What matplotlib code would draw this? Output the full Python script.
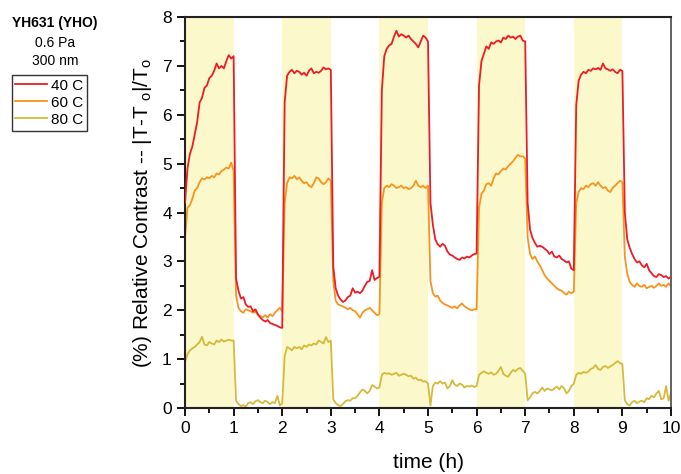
import numpy as np
import matplotlib
matplotlib.use("Agg")
import matplotlib.pyplot as plt
from matplotlib.lines import Line2D
from matplotlib.ticker import MultipleLocator

# sampling times (h), one point every 0.05 h
time_h = np.round(np.arange(0, 10.001, 0.05), 2)

# 40 C
red_40 = [
    4.2, 4.9, 5.2, 5.35, 5.6, 5.85, 6.25, 6.35, 6.55, 6.6, 6.75, 6.8, 6.9, 7.05, 6.95, 7.0, 6.95, 7.1, 7.22, 7.15,
    7.2, 2.65, 2.4, 2.24, 2.27, 2.12, 2.07, 2.08, 1.98, 2.02, 1.92, 1.85, 1.8, 1.77, 1.8, 1.74, 1.72, 1.7, 1.68, 1.65,
    1.64, 6.25, 6.8, 6.88, 6.92, 6.85, 6.9, 6.88, 6.82, 6.86, 6.8, 6.9, 6.95, 6.85, 6.88, 6.86, 6.9, 6.97, 6.93, 6.95,
    6.92, 2.9, 2.45, 2.3, 2.22, 2.17, 2.2, 2.27, 2.3, 2.45, 2.36, 2.38, 2.35, 2.4, 2.5, 2.58, 2.6, 2.82, 2.62, 2.66,
    2.68, 6.5, 7.2, 7.35, 7.42, 7.45, 7.6, 7.72, 7.6, 7.65, 7.62, 7.58, 7.62, 7.55, 7.5, 7.45, 7.38, 7.5, 7.62, 7.58,
    7.5, 4.2, 3.75, 3.45, 3.35, 3.3, 3.36, 3.32, 3.2, 3.14, 3.12, 3.08, 3.05, 3.03, 3.08, 3.06, 3.1, 3.08, 3.12, 3.15,
    3.16, 6.6, 7.1, 7.25, 7.4, 7.35, 7.48, 7.45, 7.5, 7.52, 7.48, 7.58, 7.55, 7.62, 7.58, 7.6, 7.55, 7.6, 7.62, 7.52,
    7.5, 4.2, 3.65, 3.48, 3.38, 3.3, 3.32, 3.3, 3.26, 3.22, 3.15, 3.2, 3.1, 3.08, 3.12, 3.05, 3.02, 2.98, 3.0, 2.85,
    2.82, 6.2, 6.7, 6.82, 6.88, 6.85, 6.92, 6.9, 6.95, 6.93, 6.96, 6.92, 7.05, 6.95, 6.93, 6.9, 6.93, 6.88, 6.85, 6.92,
    6.9, 4.0, 3.45, 3.28, 3.15, 3.05, 2.98, 3.0, 2.92, 2.88, 2.95, 2.82, 2.76, 2.7, 2.68, 2.74, 2.72, 2.68, 2.7, 2.65,
    2.68,
]

# 60 C
orange_60 = [
    3.5, 4.1, 4.15, 4.28, 4.45, 4.5, 4.62, 4.7, 4.68, 4.72, 4.7, 4.75, 4.72, 4.8, 4.78, 4.85, 4.88, 4.92, 4.9, 5.02,
    4.85, 2.3, 2.05, 1.98, 1.95, 2.02, 2.0, 1.98, 1.95, 1.97, 1.9, 1.88, 1.86, 1.9, 1.85, 1.92, 1.88, 1.95, 2.0, 2.05,
    1.98, 4.2, 4.6, 4.72, 4.7, 4.75, 4.68, 4.72, 4.65, 4.6, 4.62, 4.55, 4.52, 4.6, 4.72, 4.7, 4.62, 4.58, 4.62, 4.7,
    4.65, 2.6, 2.2, 2.12, 2.1, 2.08, 2.05, 2.02, 2.05, 2.0, 1.98, 1.92, 1.85, 1.95, 2.0, 2.02, 2.05, 2.0, 1.95, 1.9,
    1.92, 4.2, 4.5, 4.55, 4.52, 4.58, 4.55, 4.5, 4.52, 4.55, 4.5, 4.52, 4.48, 4.5, 4.55, 4.65, 4.55, 4.52, 4.55, 4.5,
    4.55, 2.6, 2.35, 2.28, 2.3, 2.2, 2.15, 2.12, 2.1, 2.07, 2.05, 2.08, 2.04, 2.1, 2.14, 2.08, 2.05, 2.02, 2.0, 2.02,
    2.02, 4.1, 4.38, 4.45, 4.58, 4.6, 4.55, 4.7, 4.8, 4.78, 4.85, 4.9, 4.88, 4.95, 5.0, 5.05, 5.12, 5.18, 5.15, 5.15,
    5.1, 3.5, 3.15, 3.05, 3.1, 3.0, 2.92, 2.82, 2.72, 2.65, 2.6, 2.55, 2.5, 2.45, 2.42, 2.4, 2.35, 2.32, 2.38, 2.35,
    2.38, 4.2, 4.42, 4.5, 4.48, 4.55, 4.52, 4.58, 4.6, 4.55, 4.62, 4.55, 4.5, 4.52, 4.45, 4.42, 4.5, 4.55, 4.6, 4.65,
    4.62, 3.1, 2.75, 2.58, 2.52, 2.48, 2.55, 2.5, 2.48, 2.52, 2.45, 2.48, 2.5, 2.46, 2.5, 2.55, 2.5, 2.52, 2.48, 2.55,
    2.5,
]

# 80 C
yellow_80 = [
    0.95, 1.1, 1.18, 1.22, 1.25, 1.3, 1.35, 1.46, 1.3, 1.28, 1.35, 1.32, 1.3, 1.38, 1.35, 1.4, 1.36, 1.38, 1.4, 1.38,
    1.38, 0.15, 0.08, 0.04, 0.06, 0.03, 0.1, 0.12, 0.08, 0.14, 0.16, 0.12, 0.1, 0.15, 0.12, 0.08, 0.12, 0.1, 0.25, 0.05,
    0.1, 1.05, 1.25, 1.22, 1.18, 1.25, 1.22, 1.25, 1.2, 1.28, 1.25, 1.3, 1.28, 1.32, 1.3, 1.38, 1.35, 1.32, 1.45, 1.35,
    1.38, 0.18, 0.1, 0.06, 0.04, 0.08, 0.14, 0.16, 0.15, 0.2, 0.2, 0.25, 0.32, 0.38, 0.35, 0.3, 0.35, 0.47, 0.44, 0.4,
    0.42, 0.68, 0.72, 0.7, 0.71, 0.68, 0.7, 0.72, 0.66, 0.68, 0.7, 0.68, 0.65, 0.66, 0.6, 0.62, 0.57, 0.58, 0.54, 0.55,
    0.5, 0.05, 0.45, 0.52, 0.5, 0.55, 0.5, 0.52, 0.4, 0.45, 0.57, 0.48, 0.45, 0.5, 0.48, 0.42, 0.45, 0.44, 0.46, 0.43,
    0.45, 0.68, 0.72, 0.75, 0.72, 0.7, 0.73, 0.68, 0.7, 0.76, 0.84, 0.7, 0.66, 0.64, 0.72, 0.78, 0.75, 0.8, 0.82, 0.76,
    0.7, 0.16, 0.22, 0.3, 0.33, 0.3, 0.35, 0.42, 0.35, 0.4, 0.38, 0.36, 0.4, 0.44, 0.38, 0.45, 0.4, 0.3, 0.35, 0.45,
    0.5, 0.68, 0.72, 0.7, 0.74, 0.72, 0.75, 0.8, 0.82, 0.88, 0.8, 0.78, 0.84, 0.86, 0.82, 0.85, 0.88, 0.92, 0.96, 0.92,
    0.9, 0.16, 0.08, 0.05, 0.12, 0.15, 0.1, 0.13, 0.15, 0.12, 0.2, 0.18, 0.25, 0.22, 0.3, 0.35, 0.18, 0.2, 0.45, 0.15,
    0.3,
]

series_labels = ['40 C', '60 C', '80 C']
series_colors = ['#ec1c24', '#f7941d', '#d7b93a']

# illuminated periods (h)
light_on = [(0, 1), (2, 3), (4, 5), (6, 7), (8, 9)]

plt.rcParams['font.family'] = ['Liberation Sans', 'DejaVu Sans']
plt.rcParams['mathtext.default'] = 'regular'

fig = plt.figure(figsize=(6.81, 4.74), dpi=100)
ax = fig.add_axes([0.2717, 0.1392, 0.7136, 0.8248])

for a, b in light_on:
    ax.axvspan(a, b, color='#fbf8cb', lw=0, zorder=0)

for z, (vals, lab, col) in enumerate(zip([red_40, orange_60, yellow_80], series_labels, series_colors)):
    ax.plot(time_h, vals, color=col, lw=1.3, label=lab, zorder=3 - z)

ax.set_xlim(0, 10)
ax.set_ylim(0, 8)
ax.xaxis.set_major_locator(MultipleLocator(1))
ax.xaxis.set_minor_locator(MultipleLocator(0.5))
ax.yaxis.set_major_locator(MultipleLocator(1))
ax.yaxis.set_minor_locator(MultipleLocator(0.5))
ax.tick_params(which='both', direction='out', width=1.3, labelsize=12.5)
ax.tick_params(which='major', length=6)
ax.tick_params(which='minor', length=3.5)
for s in ['left', 'bottom', 'top']:
    ax.spines[s].set_linewidth(1.5)
    ax.spines[s].set_color('#222222')
ax.spines['right'].set_linewidth(1.3)
ax.spines['right'].set_color('#555555')

ax.set_xlabel('time (h)', fontsize=15, labelpad=12)
ax.set_ylabel(r'(%) Relative Contrast -- |T-T $_o$|/T$_o$', fontsize=15, labelpad=6)

fig.text(0.081, 0.951, 'YH631 (YHO)', fontsize=10, fontweight='bold', ha='center', va='center')
fig.text(0.081, 0.910, '0.6 Pa', fontsize=10, ha='center', va='center')
fig.text(0.081, 0.871, '300 nm', fontsize=10, ha='center', va='center')

handles = [Line2D([], [], color=c, lw=1.3) for c in series_colors]
leg = fig.legend(handles, series_labels, loc='upper left',
                 bbox_to_anchor=(0.017, 0.842), fontsize=11, frameon=True,
                 fancybox=False, edgecolor='black', handlelength=2.1,
                 handletextpad=0.2, borderpad=0.25, labelspacing=0.2,
                 borderaxespad=0)
leg.get_frame().set_linewidth(1.0)

fig.savefig('out.png', dpi=100)
